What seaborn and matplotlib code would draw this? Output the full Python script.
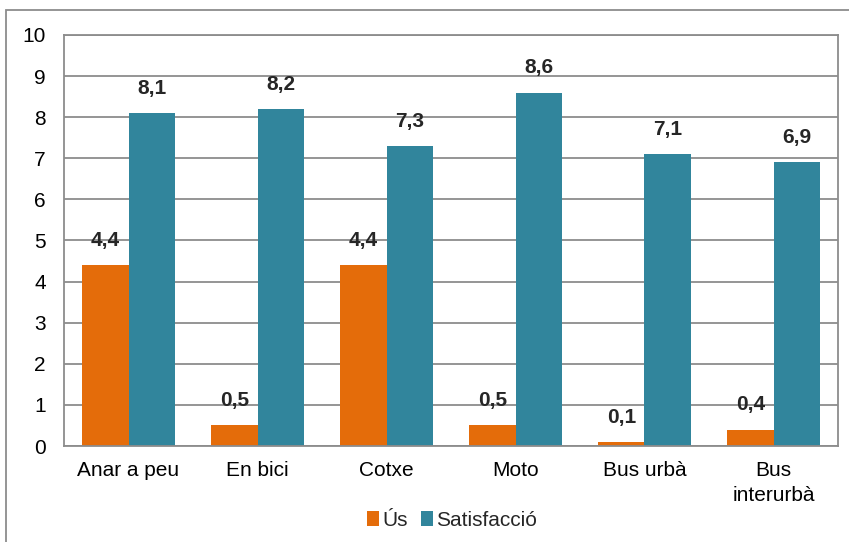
import matplotlib
matplotlib.use("Agg")
import matplotlib.pyplot as plt
import matplotlib.patches as mpatches
import seaborn as sns
import pandas as pd

categories = ["Anar a peu", "En bici", "Cotxe", "Moto", "Bus urbà", "Bus\ninterurbà"]
us_values = [4.4, 0.5, 4.4, 0.5, 0.1, 0.4]
satisfaccio_values = [8.1, 8.2, 7.3, 8.6, 7.1, 6.9]
series_names = ["Ús", "Satisfacció"]
colors = ["#E46C0A", "#31859C"]

df = pd.DataFrame({
    "categoria": categories * 2,
    "valor": us_values + satisfaccio_values,
    "serie": [series_names[0]] * len(categories) + [series_names[1]] * len(categories),
})

sns.set_style("white")
plt.rcParams["font.family"] = ["Liberation Sans", "DejaVu Sans"]

fig = plt.figure(figsize=(8.49, 5.42), dpi=100)
ax = fig.add_axes([64 / 849, 96 / 542, (838 - 64) / 849, (446 - 35) / 542])

sns.barplot(data=df, x="categoria", y="valor", hue="serie", palette=colors,
            width=0.72, saturation=1, ax=ax, legend=True,
            edgecolor="none", linewidth=0)

ax.set_ylim(0, 10)
ax.set_yticks(range(0, 11))
ax.yaxis.grid(True, color="#8c8c8c", linewidth=1.3)
ax.set_axisbelow(True)
for s in ax.spines.values():
    s.set_color("#8c8c8c")
    s.set_linewidth(1.3)
ax.set_xlabel("")
ax.set_ylabel("")
ax.tick_params(axis="both", length=0, labelsize=15, colors="black")
ax.tick_params(axis="y", pad=13)
ax.tick_params(axis="x", pad=11)
for lab in ax.get_xticklabels():
    lab.set_linespacing(1.4)

for cont in ax.containers:
    ax.bar_label(cont, labels=[f"{v:.1f}".replace(".", ",") for v in cont.datavalues],
                 padding=11, fontsize=15, fontweight="bold")

leg = ax.legend(loc="upper center", bbox_to_anchor=(452 / 849, 50 / 542),
                bbox_transform=fig.transFigure, ncol=2, frameon=False,
                fontsize=15, handlelength=0.6, handleheight=0.75,
                handletextpad=0.15, columnspacing=0.6)

# outer chart frame
fig.patches.append(mpatches.Rectangle((6 / 849, -0.01), 1.0, 532 / 542 + 0.01,
                                      transform=fig.transFigure, fill=False,
                                      edgecolor="#8c8c8c", linewidth=1.3))

fig.savefig("out.png", dpi=100)
